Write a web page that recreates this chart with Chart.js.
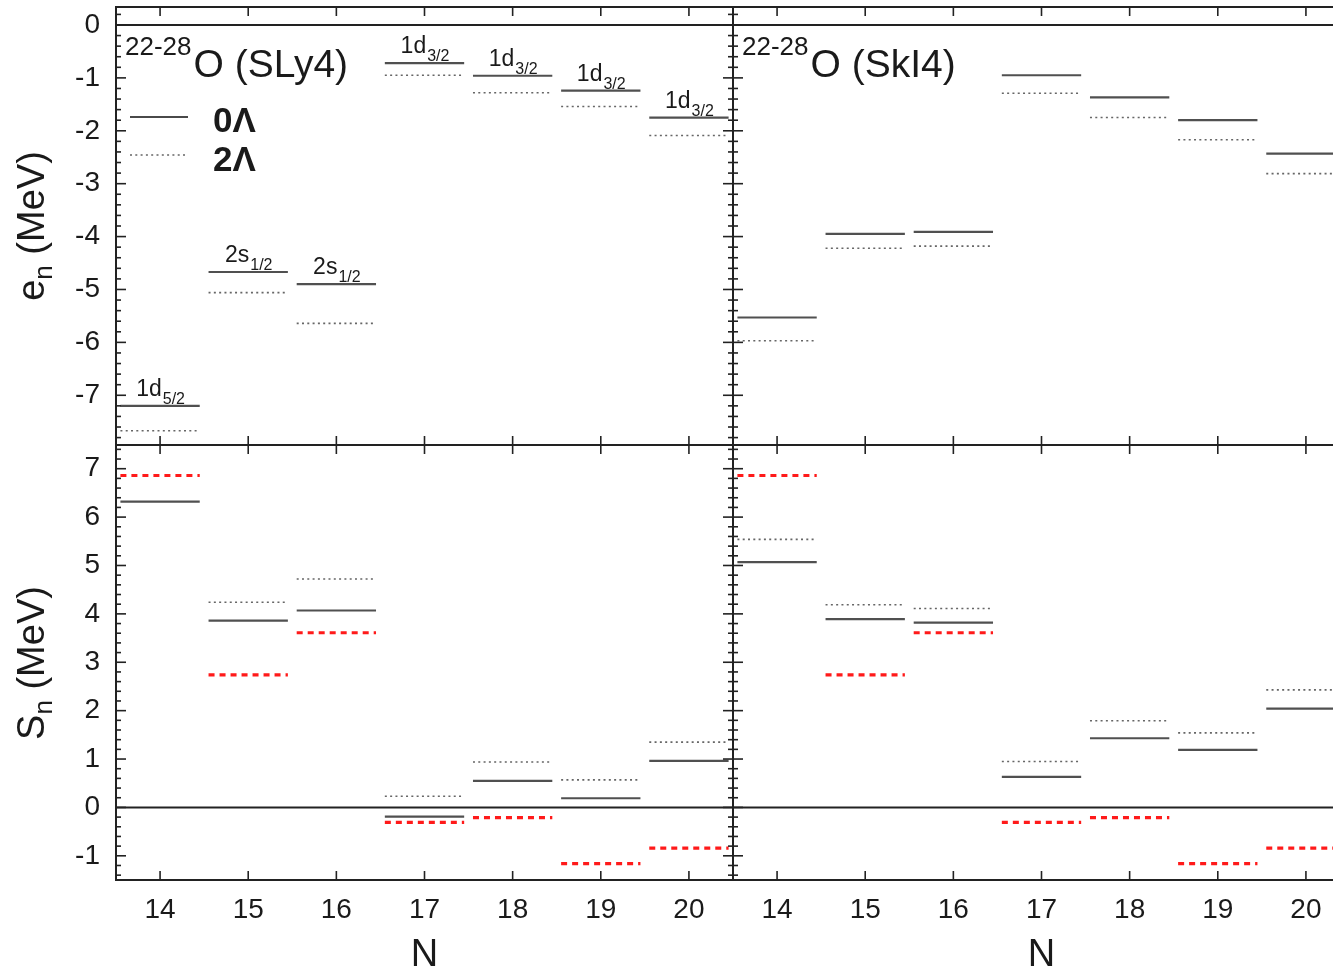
<!DOCTYPE html>
<html>
<head>
<meta charset="utf-8">
<title>22-28O neutron levels and separation energies</title>
<script src="https://cdn.jsdelivr.net/npm/chart.js@4.4.1/dist/chart.umd.min.js"></script>
<style>
  html, body { margin: 0; padding: 0; background: #fff; overflow: hidden; }
  #fig { position: relative; width: 1333px; height: 973px; overflow: hidden; background: #fff; }
  #fig canvas { position: absolute; }
</style>
</head>
<body>
<div id="fig">
  <canvas id="enSLy4" width="740" height="452" style="left:0;top:0"></canvas>
  <canvas id="enSkI4" width="631" height="452" style="left:726px;top:0"></canvas>
  <canvas id="snSLy4" width="740" height="535" style="left:0;top:438px"></canvas>
  <canvas id="snSkI4" width="631" height="535" style="left:726px;top:438px"></canvas>
</div>
<script>
// neutron number of each isotope 22O ... 28O
const neutronNumbers = [14, 15, 16, 17, 18, 19, 20];
const orbitLabels = [['1d', '5/2'], ['2s', '1/2'], ['2s', '1/2'], ['1d', '3/2'], ['1d', '3/2'], ['1d', '3/2'], ['1d', '3/2']];

// last occupied neutron level e_n (MeV)
const enSLy4_0L = [-7.20, -4.67, -4.90, -0.72, -0.96, -1.24, -1.75];
const enSLy4_2L = [-7.67, -5.06, -5.64, -0.95, -1.28, -1.54, -2.09];
const enSkI4_0L = [-5.53, -3.95, -3.91, -0.95, -1.37, -1.80, -2.43];
const enSkI4_2L = [-5.97, -4.22, -4.18, -1.29, -1.75, -2.17, -2.81];

// one-neutron separation energy S_n (MeV)
const snSLy4_0L = [6.32, 3.86, 4.07, -0.19, 0.55, 0.19, 0.96];
const snSLy4_2L = [null, 4.24, 4.72, 0.23, 0.94, 0.57, 1.35];
const snSkI4_0L = [5.07, 3.89, 3.82, 0.63, 1.43, 1.19, 2.04];
const snSkI4_2L = [5.54, 4.19, 4.11, 0.95, 1.79, 1.54, 2.43];
const snExp = [6.86, 2.74, 3.61, -0.31, -0.21, -1.16, -0.84];

const enTicks = [0, -1, -2, -3, -4, -5, -6, -7];
const snTicks = [7, 6, 5, 4, 3, 2, 1, 0, -1];

const FONT = "'Liberation Sans', Arial, Helvetica, sans-serif";
const INK = '#1a1a1a';
const HALF = 0.45;

// each level is a short horizontal bar centred on N, bars split by a null point
function levels(values) {
  const pts = [];
  neutronNumbers.forEach((n, i) => {
    if (values[i] === null) return;
    pts.push({ x: n - HALF, y: values[i] }, { x: n + HALF, y: values[i] }, { x: n + 0.5, y: null });
  });
  return pts;
}

const solid = (values) => ({ data: levels(values), borderColor: '#505050', borderWidth: 2.2 });
const dotted = (values) => ({ data: levels(values), borderColor: '#666', borderWidth: 1.6, borderDash: [2, 3.3] });
const exp = (values) => ({ data: levels(values), borderColor: '#ff1a1a', borderWidth: 3.2, borderDash: [6, 5] });

// frame, zero line and inward ticks on all four sides
const frameTicks = {
  id: 'frameTicks',
  afterDatasetsDraw(chart) {
    const { ctx, chartArea: a, scales: { x, y } } = chart;
    ctx.save();
    ctx.strokeStyle = '#222';
    ctx.lineWidth = 2;
    const seg = (x1, y1, x2, y2) => { ctx.beginPath(); ctx.moveTo(x1, y1); ctx.lineTo(x2, y2); ctx.stroke(); };
    const y0 = y.getPixelForValue(0);
    seg(a.left, y0, a.right, y0);
    ctx.strokeRect(a.left, a.top, a.right - a.left, a.bottom - a.top);
    ctx.lineWidth = 1.6;
    neutronNumbers.forEach((n) => {
      const px = x.getPixelForValue(n);
      seg(px, a.bottom, px, a.bottom - 9);
      seg(px, a.top, px, a.top + 9);
    });
    for (let k = Math.ceil(y.min * 5); k <= Math.floor(y.max * 5); k++) {
      const py = y.getPixelForValue(k / 5);
      const len = k % 5 === 0 ? 10 : 5;
      seg(a.left, py, a.left + len, py);
      seg(a.right, py, a.right - len, py);
    }
    ctx.restore();
  },
};

// panel title, legend, orbit labels and rotated axis title
const panelText = {
  id: 'panelText',
  afterDraw(chart, args, opts) {
    const { ctx, chartArea: a, scales: { x, y } } = chart;
    ctx.save();
    ctx.fillStyle = INK;
    ctx.textBaseline = 'alphabetic';
    ctx.textAlign = 'left';

    if (opts.model) {
      ctx.font = `26px ${FONT}`;
      const sup = '22-28';
      ctx.fillText(sup, a.left + 9, a.top + 48);
      const w = ctx.measureText(sup).width;
      ctx.font = `39px ${FONT}`;
      ctx.fillText(`O (${opts.model})`, a.left + 11 + w, a.top + 70);
    }

    if (opts.legend) {
      ctx.strokeStyle = '#4a4a4a';
      ctx.lineWidth = 2.2;
      ctx.beginPath(); ctx.moveTo(a.left + 14, a.top + 110); ctx.lineTo(a.left + 72, a.top + 110); ctx.stroke();
      ctx.strokeStyle = '#666';
      ctx.lineWidth = 1.6;
      ctx.setLineDash([2, 3.3]);
      ctx.beginPath(); ctx.moveTo(a.left + 14, a.top + 148); ctx.lineTo(a.left + 72, a.top + 148); ctx.stroke();
      ctx.setLineDash([]);
      ctx.font = `bold 35px ${FONT}`;
      ctx.fillText('0Λ', a.left + 97, a.top + 125);
      ctx.fillText('2Λ', a.left + 97, a.top + 164);
    }

    if (opts.levels) {
      neutronNumbers.forEach((n, i) => {
        const [main, sub] = orbitLabels[i];
        ctx.font = `23px ${FONT}`;
        const wm = ctx.measureText(main).width;
        ctx.font = `16px ${FONT}`;
        const ws = ctx.measureText(sub).width;
        const px = x.getPixelForValue(n) - (wm + ws) / 2;
        const py = y.getPixelForValue(opts.levels[i]);
        ctx.font = `23px ${FONT}`;
        ctx.fillText(main, px, py - 10);
        ctx.font = `16px ${FONT}`;
        ctx.fillText(sub, px + wm + 1, py - 2);
      });
    }

    if (opts.yTitle) {
      const [main, sub, rest] = opts.yTitle;
      ctx.font = `38px ${FONT}`;
      const w1 = ctx.measureText(main).width;
      const w3 = ctx.measureText(rest).width;
      ctx.font = `26px ${FONT}`;
      const w2 = ctx.measureText(sub).width;
      const total = w1 + w2 + w3;
      ctx.translate(44, opts.yCenter);
      ctx.rotate(-Math.PI / 2);
      ctx.font = `38px ${FONT}`;
      ctx.fillText(main, -total / 2, 0);
      ctx.font = `26px ${FONT}`;
      ctx.fillText(sub, -total / 2 + w1, 8);
      ctx.font = `38px ${FONT}`;
      ctx.fillText(rest, -total / 2 + w1 + w2, 0);
    }
    ctx.restore();
  },
};

function makePanel(id, cfg) {
  return new Chart(document.getElementById(id), {
    type: 'line',
    data: { datasets: cfg.datasets },
    options: {
      responsive: false,
      animation: false,
      events: [],
      layout: { padding: cfg.padding },
      elements: {
        point: { radius: 0 },
        line: { tension: 0, borderCapStyle: 'butt', fill: false },
      },
      plugins: {
        legend: { display: false },
        tooltip: { enabled: false },
        panelText: cfg.text,
      },
      scales: {
        x: {
          type: 'linear',
          min: 13.5,
          max: 20.5,
          afterBuildTicks(s) { s.ticks = neutronNumbers.map((v) => ({ value: v })); },
          afterFit(s) { s.height = cfg.xHeight; s.paddingLeft = 0; s.paddingRight = 0; },
          grid: { display: false, drawTicks: false },
          border: { display: false },
          ticks: {
            display: cfg.xLabels,
            padding: 13,
            autoSkip: false,
            maxRotation: 0,
            color: INK,
            font: { size: 28, family: FONT },
          },
          title: {
            display: cfg.xLabels,
            text: 'N',
            color: INK,
            padding: { top: 0, bottom: -2 },
            font: { size: 38, family: FONT, lineHeight: 1 },
          },
        },
        y: {
          type: 'linear',
          min: cfg.yMin,
          max: cfg.yMax,
          afterBuildTicks(s) { s.ticks = cfg.yTicks.map((v) => ({ value: v })); },
          afterFit(s) { s.width = cfg.yWidth; s.paddingTop = 0; s.paddingBottom = 0; },
          grid: { display: false, drawTicks: false },
          border: { display: false },
          ticks: {
            display: cfg.yLabels,
            padding: 16,
            autoSkip: false,
            color: INK,
            font: { size: 28, family: FONT },
            callback: (v) => `${v}`,
          },
        },
      },
    },
    plugins: [frameTicks, panelText],
  });
}

makePanel('enSLy4', {
  datasets: [solid(enSLy4_0L), dotted(enSLy4_2L)],
  padding: { left: 0, top: 7, right: 7, bottom: 7 },
  xHeight: 0, xLabels: false,
  yWidth: 116, yLabels: true, yMin: -7.94, yMax: 0.34, yTicks: enTicks,
  text: { model: 'SLy4', legend: true, levels: enSLy4_0L, yTitle: ['e', 'n', ' (MeV)'], yCenter: 226 },
});

makePanel('enSkI4', {
  datasets: [solid(enSkI4_0L), dotted(enSkI4_2L)],
  padding: { left: 7, top: 7, right: 7, bottom: 7 },
  xHeight: 0, xLabels: false,
  yWidth: 0, yLabels: false, yMin: -7.94, yMax: 0.34, yTicks: enTicks,
  text: { model: 'SkI4' },
});

makePanel('snSLy4', {
  datasets: [solid(snSLy4_0L), dotted(snSLy4_2L), exp(snExp)],
  padding: { left: 0, top: 7, right: 7, bottom: 0 },
  xHeight: 93, xLabels: true,
  yWidth: 116, yLabels: true, yMin: -1.5, yMax: 7.49, yTicks: snTicks,
  text: { yTitle: ['S', 'n', ' (MeV)'], yCenter: 225 },
});

makePanel('snSkI4', {
  datasets: [solid(snSkI4_0L), dotted(snSkI4_2L), exp(snExp)],
  padding: { left: 7, top: 7, right: 7, bottom: 0 },
  xHeight: 93, xLabels: true,
  yWidth: 0, yLabels: false, yMin: -1.5, yMax: 7.49, yTicks: snTicks,
  text: {},
});
</script>
</body>
</html>
